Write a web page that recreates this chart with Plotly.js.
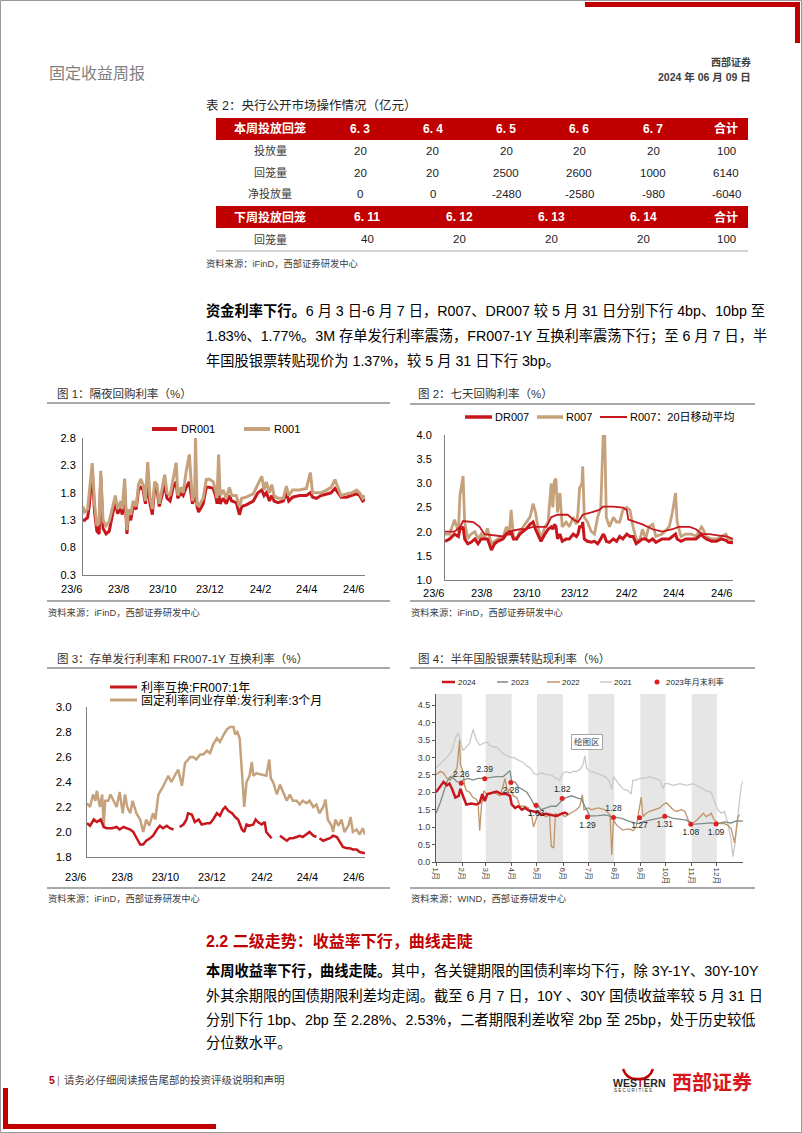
<!DOCTYPE html>
<html>
<head>
<meta charset="utf-8">
<script src="https://cdn.plot.ly/plotly-3.0.1.min.js"></script>
<style>
  html, body { margin: 0; padding: 0; background: #fff; }
  #page { width: 802px; height: 1133px; }
</style>
</head>
<body>
<div id="page"></div>
<script>
// 表2 央行公开市场操作
const weekCols = ['6. 3', '6. 4', '6. 5', '6. 6', '6. 7', '合计'];
const issueAmt = [20, 20, 20, 20, 20, 100];
const maturityAmt = [20, 20, 2500, 2600, 1000, 6140];
const netAmt = [0, 0, -2480, -2580, -980, -6040];
const nextCols = ['6. 11', '6. 12', '6. 13', '6. 14', '合计'];
const nextMaturity = [40, 20, 20, 20, 100];

// 图1 隔夜回购利率
const dates1 = ['2023-06-07','2023-06-09','2023-06-13','2023-06-15','2023-06-19','2023-06-22','2023-06-25','2023-06-28','2023-06-30','2023-07-03',
  '2023-07-07','2023-07-11','2023-07-16','2023-07-19','2023-07-22','2023-07-26','2023-07-28','2023-07-31','2023-08-03','2023-08-05',
  '2023-08-08','2023-08-11','2023-08-15','2023-08-18','2023-08-21','2023-08-24','2023-08-27','2023-08-30','2023-09-02','2023-09-05',
  '2023-09-08','2023-09-11','2023-09-14','2023-09-18','2023-09-21','2023-09-24','2023-09-28','2023-10-02','2023-10-06','2023-10-08',
  '2023-10-12','2023-10-15','2023-10-19','2023-10-23','2023-10-27','2023-10-30','2023-10-31','2023-11-02','2023-11-04','2023-11-10',
  '2023-11-14','2023-11-18','2023-11-23','2023-11-26','2023-11-28','2023-11-30','2023-12-02','2023-12-06','2023-12-10','2023-12-14',
  '2023-12-17','2023-12-23','2023-12-27','2023-12-30','2024-01-05','2024-01-14','2024-01-20','2024-01-25','2024-01-28','2024-01-31',
  '2024-02-04','2024-02-07','2024-02-10','2024-02-15','2024-02-22','2024-02-26','2024-02-29','2024-03-05','2024-03-14','2024-03-23',
  '2024-03-28','2024-03-31','2024-04-05','2024-04-11','2024-04-18','2024-04-24','2024-04-29','2024-05-03','2024-05-07','2024-05-14',
  '2024-05-21','2024-05-27','2024-05-31','2024-06-04','2024-06-07'];
const dr001 = [1.30,1.30,1.35,1.55,2.20,1.45,1.10,1.05,2.10,1.15,
  1.05,1.10,1.45,1.62,1.42,1.52,1.40,1.90,1.05,1.40,
  1.30,1.55,1.50,1.85,1.90,1.85,1.60,1.95,1.60,1.40,
  1.90,1.85,1.55,1.80,1.95,1.70,1.65,1.90,2.00,1.70,
  1.80,1.75,1.90,2.00,1.60,1.70,1.95,1.55,1.45,1.60,
  1.90,1.90,1.88,1.75,1.60,1.80,1.60,1.70,1.60,1.75,
  1.65,1.62,1.40,1.55,1.58,1.65,1.80,1.85,1.75,1.80,
  1.65,1.75,1.65,1.62,1.65,1.80,1.65,1.72,1.75,1.75,
  1.80,1.72,1.70,1.75,1.77,1.80,1.88,1.80,1.72,1.72,
  1.75,1.78,1.75,1.65,1.68];
const r001 = [1.55,1.45,1.50,1.80,2.34,1.60,1.20,1.25,2.20,1.30,
  1.20,1.28,1.58,1.75,1.50,1.65,1.50,2.06,1.12,1.50,
  1.40,1.65,1.55,1.95,2.05,1.95,1.65,2.36,1.70,1.50,
  2.00,1.95,1.60,1.90,2.13,1.80,1.75,2.05,2.35,1.75,
  1.90,1.80,2.20,2.50,1.65,1.80,2.80,1.60,1.55,1.70,
  2.04,2.05,2.00,1.85,1.70,2.50,1.75,1.85,1.70,1.90,
  1.75,1.75,1.55,1.70,1.72,1.78,1.95,2.10,1.85,2.00,
  1.80,1.95,1.75,1.70,1.70,1.92,1.75,1.85,1.85,1.88,
  2.17,1.80,1.80,1.80,1.85,1.90,2.04,1.90,1.75,1.78,
  1.80,1.85,1.80,1.70,1.75];

// 图2 七天回购利率
const dates2 = ['2023-06-07','2023-06-13','2023-06-19','2023-06-24','2023-06-26','2023-06-30','2023-07-02','2023-07-06','2023-07-10','2023-07-15',
  '2023-07-19','2023-07-23','2023-07-27','2023-07-31','2023-08-05','2023-08-09','2023-08-13','2023-08-20','2023-08-24','2023-08-28',
  '2023-08-30','2023-09-02','2023-09-06','2023-09-10','2023-09-14','2023-09-18','2023-09-23','2023-09-27','2023-09-30','2023-10-03',
  '2023-10-07','2023-10-12','2023-10-16','2023-10-20','2023-10-22','2023-10-24','2023-10-26','2023-10-28','2023-10-31','2023-11-03',
  '2023-11-08','2023-11-12','2023-11-17','2023-11-21','2023-11-23','2023-11-25','2023-11-28','2023-11-29','2023-12-01','2023-12-05',
  '2023-12-10','2023-12-14','2023-12-18','2023-12-22','2023-12-25','2023-12-27','2023-12-29','2024-01-02','2024-01-07','2024-01-11',
  '2024-01-15','2024-01-19','2024-01-24','2024-01-28','2024-02-01','2024-02-05','2024-02-09','2024-02-13','2024-02-17','2024-02-21',
  '2024-02-26','2024-03-01','2024-03-09','2024-03-18','2024-03-22','2024-03-26','2024-03-28','2024-04-02','2024-04-08','2024-04-15',
  '2024-04-21','2024-04-28','2024-04-30','2024-05-04','2024-05-11','2024-05-17','2024-05-23','2024-05-29','2024-06-01','2024-06-07'];
const r007 = [1.95,1.95,2.25,2.0,2.75,3.15,2.2,1.85,1.95,2.0,
  1.85,1.95,1.85,2.07,1.75,1.8,1.85,1.9,2.1,2.0,
  2.45,1.9,1.85,2.0,2.1,2.2,2.3,2.58,2.4,2.1,
  1.85,2.1,2.2,3.0,2.5,3.05,3.1,2.4,2.8,2.1,
  2.2,2.1,2.3,2.15,2.4,2.9,3.0,3.35,2.3,2.2,
  2.0,1.95,2.3,2.5,4.0,4.0,2.3,2.1,2.3,2.2,
  2.2,2.45,2.5,2.45,2.1,1.85,1.8,2.05,1.85,2.1,
  2.15,1.9,1.95,2.1,2.4,2.8,2.2,1.9,1.95,1.95,
  1.9,2.1,2.05,1.9,1.85,1.85,1.9,1.95,1.85,1.83];
const dr007 = [1.8,1.85,1.95,1.9,2.05,2.1,1.85,1.75,1.78,1.85,
  1.75,1.85,1.85,1.85,1.62,1.75,1.8,1.85,1.95,1.95,
  2.0,1.85,1.85,1.95,2.0,2.05,2.15,2.2,2.05,1.95,
  1.8,1.95,2.05,2.1,2.05,2.15,2.1,1.85,1.95,1.8,
  1.85,1.85,1.95,1.9,1.95,2.1,2.1,2.2,1.85,1.8,
  1.78,1.8,1.75,1.85,1.95,1.9,1.8,1.78,1.85,1.8,
  1.9,1.85,1.95,1.9,1.9,1.75,1.8,1.85,1.85,1.8,
  1.85,1.78,1.85,1.85,1.9,1.95,1.85,1.8,1.85,1.85,
  1.85,1.95,1.9,1.85,1.8,1.8,1.85,1.82,1.78,1.77];
const datesMA = ['2023-06-07','2023-06-19','2023-06-26','2023-06-30','2023-07-13','2023-07-21','2023-07-27','2023-08-07','2023-08-20','2023-08-26',
  '2023-09-10','2023-09-16','2023-09-27','2023-10-05','2023-10-14','2023-10-20','2023-10-28','2023-11-10','2023-11-17','2023-11-23',
  '2023-11-29','2023-12-10','2023-12-20','2023-12-25','2024-01-07','2024-01-19','2024-01-24','2024-01-26','2024-02-05','2024-02-13',
  '2024-02-26','2024-03-09','2024-03-22','2024-03-30','2024-04-13','2024-04-21','2024-04-28','2024-05-08','2024-05-21','2024-05-30','2024-06-07'];
const r007ma = [2.0,2.0,2.1,2.22,2.2,2.1,1.95,1.92,1.9,2.0,
  2.05,2.05,2.1,2.1,2.1,2.3,2.35,2.35,2.25,2.2,
  2.35,2.4,2.45,2.52,2.52,2.5,2.45,2.25,2.2,2.15,
  2.05,2.0,2.05,2.1,2.1,2.05,1.95,1.95,1.92,1.9,1.85];

// 图3 存单发行利率和 FR007-1Y 互换利率
const cdDates = ['2023-06-07','2023-06-11','2023-06-15','2023-06-18','2023-06-20','2023-06-24','2023-06-27','2023-06-29','2023-07-01','2023-07-05',
  '2023-07-08','2023-07-12','2023-07-16','2023-07-20','2023-07-24','2023-07-27','2023-07-30','2023-08-03','2023-08-06','2023-08-11',
  '2023-08-16','2023-08-20','2023-08-24','2023-08-28','2023-09-02','2023-09-05','2023-09-09','2023-09-14','2023-09-18','2023-09-22',
  '2023-09-26','2023-10-01','2023-10-05','2023-10-10','2023-10-14','2023-10-21','2023-10-25','2023-10-29','2023-11-03','2023-11-07',
  '2023-11-12','2023-11-16','2023-11-20','2023-11-25','2023-11-29','2023-12-04','2023-12-08','2023-12-12','2023-12-17','2023-12-19',
  '2023-12-22','2023-12-25','2023-12-28','2023-12-31','2024-01-03','2024-01-07','2024-01-10','2024-01-12','2024-01-16','2024-01-23',
  '2024-01-29','2024-02-02','2024-02-04','2024-02-07','2024-02-12','2024-02-16','2024-02-21','2024-02-25','2024-02-29','2024-03-04',
  '2024-03-09','2024-03-13','2024-03-17','2024-03-22','2024-03-26','2024-03-31','2024-04-04','2024-04-08','2024-04-13','2024-04-16',
  '2024-04-19','2024-04-24','2024-04-26','2024-04-29','2024-05-03','2024-05-07','2024-05-11','2024-05-16','2024-05-19','2024-05-22',
  '2024-05-27','2024-05-31','2024-06-04','2024-06-07'];
const cd3m = [2.23,2.20,2.30,2.25,2.33,2.20,2.30,2.05,2.25,2.25,
  2.30,2.25,2.20,2.32,2.15,2.30,2.20,2.15,2.25,2.15,
  2.10,2.00,2.10,2.05,2.15,2.10,2.30,2.35,2.40,2.45,
  2.40,2.45,2.50,2.37,2.55,2.60,2.60,2.58,2.62,2.62,
  2.65,2.63,2.70,2.75,2.72,2.78,2.82,2.84,2.84,2.78,
  2.80,2.75,2.50,2.20,2.40,2.45,2.56,2.45,2.47,2.46,
  2.45,2.58,2.43,2.40,2.30,2.38,2.30,2.25,2.30,2.25,
  2.25,2.22,2.25,2.23,2.25,2.20,2.22,2.15,2.20,2.26,
  2.10,2.05,2.00,2.10,2.05,2.10,2.00,2.05,2.12,2.00,
  2.02,1.98,2.03,1.98];
const frDates = ['2023-06-07','2023-06-11','2023-06-16','2023-06-20','2023-06-25','2023-06-29','2023-07-03','2023-07-10','2023-07-16','2023-07-20',
  '2023-07-25','2023-07-29','2023-08-03','2023-08-07','2023-08-11','2023-08-16','2023-08-20','2023-08-24','2023-08-29','2023-09-02',
  '2023-09-07','2023-09-11','2023-09-15','2023-09-20','2023-09-24','2023-09-29','2023-10-01','2023-10-07','2023-10-12','2023-10-16',
  '2023-10-18','2023-10-23','2023-10-27','2023-11-01','2023-11-05','2023-11-12','2023-11-16','2023-11-20','2023-11-25','2023-11-29',
  '2023-12-03','2023-12-06','2023-12-10','2023-12-15','2023-12-19','2023-12-23','2023-12-28','2023-12-31','2024-01-03','2024-01-07',
  '2024-01-12','2024-01-15','2024-01-18','2024-01-23','2024-01-27','2024-01-29','2024-02-02','2024-02-05','2024-02-09','2024-02-16',
  '2024-02-21','2024-02-25','2024-02-29','2024-03-04','2024-03-09','2024-03-13','2024-03-17','2024-03-22','2024-03-26','2024-03-31',
  '2024-04-04','2024-04-06','2024-04-08','2024-04-13','2024-04-17','2024-04-22','2024-04-26','2024-05-01','2024-05-05','2024-05-09',
  '2024-05-14','2024-05-18','2024-05-22','2024-05-27','2024-05-31','2024-06-07'];
const fr007 = [2.07,2.05,2.10,2.08,2.10,2.04,2.03,2.03,2.04,2.02,
  2.04,2.03,2.02,2.00,1.95,1.90,1.90,1.93,1.95,1.97,
  2.02,2.05,2.03,2.05,2.03,2.02,null,2.04,2.06,2.10,
  2.15,2.14,2.08,2.10,2.06,2.07,2.07,2.10,2.15,2.13,
  2.18,2.20,2.17,2.15,2.12,2.10,2.02,2.00,2.06,2.05,
  2.06,2.10,2.08,2.06,2.08,2.00,1.97,1.95,null,1.97,
  1.95,1.93,1.95,1.95,1.96,1.97,1.96,1.98,2.00,1.97,
  1.96,null,1.95,1.93,1.94,1.95,1.97,1.96,1.92,1.88,
  1.87,1.87,1.86,1.86,1.84,1.83];

// 图4 半年国股银票转贴现利率 (x = 一年中的第几天)
const monthStart = [0, 31, 59, 90, 120, 151, 181, 212, 243, 273, 304, 334];
const monthLabel = ['1月','2月','3月','4月','5月','6月','7月','8月','9月','10月','11月','12月'];
const day2024 = [0,5,9,13,16,19,23,27,29,32,36,42,48,52,55,58,61,66,72,78,84,88,90,94,98,102,106,110,116,122,125,131,137,143,149,153,157];
const rate2024 = [2.0,2.15,2.3,2.2,2.25,2.1,1.85,1.9,2.1,1.9,1.65,1.68,1.65,1.7,1.95,1.75,1.95,1.98,2.02,1.95,1.95,1.9,1.65,1.55,1.6,1.5,1.55,1.48,1.45,1.42,1.35,1.38,1.35,1.32,1.38,1.42,1.37];
const day2023 = [0,5,9,13,17,21,25,29,32,38,44,50,57,64,72,80,84,88,90,94,98,104,108,112,116,119,122,125,131,137,143,147,152,155,161,167,173,177,181,183,193,201,209,213,221,228,236,242,246,254,262,270,275,282,290,298,304,312,320,327,335,343,351,357,365];
const rate2023 = [1.4,1.7,2.0,2.3,2.45,2.4,2.3,2.3,2.35,2.4,2.35,2.4,2.4,2.42,2.45,2.45,2.55,2.62,2.3,2.3,2.15,2.05,2.0,1.85,1.65,1.55,1.6,1.5,1.55,1.6,1.6,1.7,1.82,1.85,1.9,1.85,1.8,1.6,1.4,1.32,1.33,1.35,1.3,1.28,1.25,1.18,1.12,1.1,1.15,1.2,1.25,1.3,1.31,1.25,1.22,1.2,1.08,1.1,1.12,1.12,1.1,1.15,1.12,1.18,1.17];
const day2022 = [0,5,9,13,17,21,25,28,29,32,34,36,40,44,48,50,52,54,57,60,64,68,72,76,80,82,85,88,92,96,100,106,110,114,116,120,124,127,131,135,137,140,142,145,149,153,157,163,167,171,174,176,181,185,193,201,207,209,211,215,222,230,234,238,242,244,246,250,254,260,266,270,274,278,282,286,292,296,300,304,310,314,318,321,325,327,331,337,343,347,351,355,359,361];
const rate2022 = [2.5,2.6,2.55,2.4,2.35,2.5,2.7,3.5,2.8,2.6,2.2,2.05,2.0,1.85,1.8,1.7,0.9,1.6,2.05,1.95,1.95,2.0,1.95,1.9,2.2,2.4,2.0,2.1,1.9,1.85,1.6,1.6,1.55,1.3,1.0,1.3,1.4,1.35,1.3,1.35,0.45,0.4,1.4,1.3,1.4,1.3,1.35,1.45,1.5,1.6,1.93,1.5,1.55,1.5,1.55,1.5,1.35,0.2,1.2,1.05,0.92,0.95,0.9,1.0,1.5,1.86,1.3,1.4,1.45,1.5,1.55,1.65,1.7,1.6,1.5,1.45,1.5,1.45,1.2,1.1,1.2,1.3,1.4,1.3,1.35,1.4,1.2,1.1,1.1,1.05,0.95,0.55,1.3,1.35];
const day2021 = [0,7,13,19,23,26,29,32,36,40,44,48,52,56,60,64,68,72,76,80,84,88,92,96,100,104,108,112,116,120,124,127,131,137,143,147,151,155,159,163,167,171,175,177,179,183,191,197,201,205,207,209,211,217,222,228,232,234,238,242,248,254,260,266,270,272,276,282,290,298,306,314,321,327,331,335,339,343,347,351,353,355,359,363,365];
const rate2021 = [2.7,2.85,3.0,3.2,3.55,3.7,3.5,3.2,3.3,3.4,3.8,3.5,3.35,3.4,3.45,3.35,3.3,3.3,3.2,3.1,3.05,3.0,3.0,2.95,2.9,2.85,2.75,2.7,2.55,2.5,2.55,2.55,2.5,2.5,2.4,2.35,2.55,2.6,2.55,2.6,2.6,2.65,2.8,3.05,2.7,2.6,2.55,2.5,2.45,2.35,2.25,2.07,2.45,2.25,2.1,2.05,1.95,2.35,2.35,2.4,2.4,2.45,2.4,2.35,2.1,2.25,2.25,2.2,2.25,2.2,2.25,2.15,2.05,2.0,1.75,1.5,1.4,1.45,1.1,0.6,0.15,0.45,1.35,2.2,2.3];
const monthEndDay = [30, 58, 89, 119, 150, 180, 211, 242, 272, 303, 333];
const monthEndRate = [2.26, 2.39, 2.28, 1.63, 1.82, 1.29, 1.28, 1.27, 1.31, 1.08, 1.09];

// x axis ticks for 图1-3
const tickDates = ['2023-06-07','2023-08-07','2023-10-07','2023-12-07','2024-02-07','2024-04-07','2024-06-07'];
const tickText = ['23/6','23/8','23/10','23/12','24/2','24/4','24/6'];

// ---------- page layout ----------
const W = 802, H = 1133;
const FONT = 'Liberation Sans, Arial, Noto Sans CJK SC, sans-serif';
const RED = '#C8161D', TAN = '#C6A27C', TRED = '#C00000';
const BODY = 14.25;
const px = x => x / W;
const py = y => 1 - y / H;

const annotations = [];
const shapes = [];

function txt(x, y, text, size, color, anchor, bold) {
  annotations.push({
    xref: 'paper', yref: 'paper', x: px(x), y: py(y),
    text: bold ? '<b>' + text + '</b>' : text,
    showarrow: false, xanchor: anchor || 'left', yanchor: 'middle',
    borderpad: 0, font: { family: FONT, size: size, color: color }
  });
}
function box(x0, y0, x1, y1, fill) {
  shapes.push({ type: 'rect', xref: 'paper', yref: 'paper',
    x0: px(x0), x1: px(x1), y0: py(y1), y1: py(y0),
    fillcolor: fill, line: { width: 0 }, layer: 'below' });
}
function seg(x0, y0, x1, y1, color, width) {
  shapes.push({ type: 'line', xref: 'paper', yref: 'paper',
    x0: px(x0), y0: py(y0), x1: px(x1), y1: py(y1),
    line: { color: color, width: width } });
}

// page frame and corner marks
shapes.push({ type: 'rect', xref: 'paper', yref: 'paper', x0: px(0.5), x1: px(801.5), y0: py(1132.5), y1: py(0.5),
  line: { color: '#9A9A9A', width: 1 }, layer: 'below' });
box(585, 2, 800, 7, TRED);
box(795, 2, 800, 43, TRED);
box(3, 1088, 8, 1129, TRED);
box(3, 1124, 216, 1129, TRED);

// header
txt(48, 73, '固定收益周报', 16, '#7F7F7F');
txt(752, 62, '西部证券', 10, '#404040', 'right', true);
txt(752, 77, '2024 年 06 月 09 日', 10.5, '#404040', 'right', true);

// table 2
txt(205, 105, '表 2：央行公开市场操作情况（亿元）', 12.5, '#262626');
const colX = [360, 433, 506, 579, 653, 726];
const nextColX = [367, 459, 551, 643, 726];
box(216, 118, 748, 140, TRED);
txt(270, 129, '本周投放回笼', 12, '#fff', 'center', true);
weekCols.forEach((d, i) => txt(colX[i], 129, d, 12, '#fff', 'center', true));
[['投放量', issueAmt, 151], ['回笼量', maturityAmt, 173], ['净投放量', netAmt, 194]].forEach(r => {
  txt(270, r[2], r[0], 11, '#404040', 'center');
  r[1].forEach((v, i) => txt(colX[i], r[2], String(v), 11.5, '#1A1A1A', 'center'));
});
box(216, 206, 748, 228, TRED);
txt(270, 217, '下周投放回笼', 12, '#fff', 'center', true);
nextCols.forEach((d, i) => txt(nextColX[i], 217, d, 12, '#fff', 'center', true));
txt(270, 239, '回笼量', 11, '#404040', 'center');
nextMaturity.forEach((v, i) => txt(nextColX[i], 239, String(v), 11.5, '#1A1A1A', 'center'));
seg(216, 251, 748, 251, '#A6A6A6', 1);
txt(205, 263, '资料来源：iFinD，西部证券研发中心', 9.3, '#404040');

// paragraph 1
txt(205, 311, '<b>资金利率下行。</b>6 月 3 日-6 月 7 日，R007、DR007 较 5 月 31 日分别下行 4bp、10bp 至', BODY, '#000');
txt(205, 336, '1.83%、1.77%。3M 存单发行利率震荡，FR007-1Y 互换利率震荡下行；至 6 月 7 日，半', BODY, '#000');
txt(205, 360, '年国股银票转贴现价为 1.37%，较 5 月 31 日下行 3bp。', BODY, '#000');

// chart frames: titles, rules, sources
txt(56, 393, '图 1：隔夜回购利率（%）', 11.5, '#333');
seg(47, 403, 390, 403, '#8C8C8C', 1.5);
seg(47, 601, 390, 601, '#8C8C8C', 1.5);
txt(47, 612, '资料来源：iFinD，西部证券研发中心', 9.3, '#404040');

txt(417, 393, '图 2：七天回购利率（%）', 11.5, '#333');
seg(410, 404, 755, 404, '#8C8C8C', 1.5);
seg(410, 601, 755, 601, '#8C8C8C', 1.5);
txt(410, 612, '资料来源：iFinD，西部证券研发中心', 9.3, '#404040');

txt(56, 658, '图 3：存单发行利率和 FR007-1Y 互换利率（%）', 11.5, '#333');
seg(47, 668, 390, 668, '#8C8C8C', 1.5);
seg(47, 888, 390, 888, '#8C8C8C', 1.5);
txt(47, 898, '资料来源：iFinD，西部证券研发中心', 9.3, '#404040');

txt(417, 658, '图 4：半年国股银票转贴现利率（%）', 11.5, '#333');
seg(410, 668, 755, 668, '#8C8C8C', 1.5);
seg(410, 888, 755, 888, '#8C8C8C', 1.5);
txt(410, 898, '资料来源：WIND，西部证券研发中心', 9.3, '#404040');

// legends
seg(152, 429, 177, 429, RED, 4); txt(180, 429, 'DR001', 11, '#000');
seg(244, 429, 270, 429, TAN, 4); txt(273, 429, 'R001', 11, '#000');

seg(465, 417, 492, 417, RED, 3.5); txt(494, 417, 'DR007', 11, '#000');
seg(537, 417, 563, 417, TAN, 3.5); txt(565, 417, 'R007', 11, '#000');
seg(600, 417, 627, 417, RED, 2); txt(629, 417, 'R007：20日移动平均', 11, '#000');

seg(110, 687, 137, 687, RED, 3); txt(140, 687, '利率互换:FR007:1年', 12, '#000');
seg(110, 700, 137, 700, TAN, 3); txt(140, 700, '固定利率同业存单:发行利率:3个月', 12, '#000');

const C21 = '#C9C9C9', C22 = '#BF9468', C23 = '#7E8C86';
seg(442, 682, 455, 682, RED, 2.5); txt(457, 682, '2024', 8, '#262626');
seg(497, 682, 508, 682, C23, 1.5); txt(510, 682, '2023', 8, '#262626');
seg(547, 682, 560, 682, C22, 1.5); txt(561, 682, '2022', 8, '#262626');
seg(600, 682, 612, 682, C21, 1.5); txt(613, 682, '2021', 8, '#262626');
shapes.push({ type: 'circle', xref: 'paper', yref: 'paper', x0: px(654.5), x1: px(659.5), y0: py(684.5), y1: py(679.5),
  fillcolor: '#E0201F', line: { width: 0 } });
txt(665, 682, '2023年月末利率', 8, '#262626');

// 图4 shaded odd months
const ydom4 = [py(862), py(694)];
[0, 2, 4, 6, 8, 10].forEach(m => {
  shapes.push({ type: 'rect', xref: 'x4', yref: 'paper', x0: monthStart[m], x1: monthStart[m + 1],
    y0: ydom4[0], y1: ydom4[1], fillcolor: '#E6E6E6', line: { width: 0 }, layer: 'below' });
});
annotations.push({ xref: 'paper', yref: 'paper', x: px(587), y: py(742), text: '绘图区', showarrow: false,
  xanchor: 'center', yanchor: 'middle', bgcolor: '#fff', bordercolor: '#A6A6A6', borderwidth: 1, borderpad: 2,
  font: { family: FONT, size: 8.5, color: '#404040' } });

// section 2.2
txt(205, 941, '<b>2.2 二级走势：收益率下行，曲线走陡</b>', 16, TRED);
txt(205, 970, '<b>本周收益率下行，曲线走陡。</b>其中，各关键期限的国债利率均下行，除 3Y-1Y、30Y-10Y', BODY, '#000');
txt(205, 995, '外其余期限的国债期限利差均走阔。截至 6 月 7 日，10Y 、30Y 国债收益率较 5 月 31 日', BODY, '#000');
txt(205, 1019, '分别下行 1bp、2bp 至 2.28%、2.53%，二者期限利差收窄 2bp 至 25bp，处于历史较低', BODY, '#000');
txt(205, 1043, '分位数水平。', BODY, '#000');

// footer
txt(48, 1080, '<b>5</b>', 10.5, TRED);
txt(56, 1080, '|', 10.5, '#7F7F7F');
txt(63, 1080, '请务必仔细阅读报告尾部的投资评级说明和声明', 10.5, '#404040');
shapes.push({ type: 'path', xref: 'paper', yref: 'paper',
  path: 'M ' + px(623) + ',' + py(1069) + ' Q ' + px(627) + ',' + py(1080) + ' ' + px(638) + ',' + py(1079) +
        ' Q ' + px(649) + ',' + py(1080) + ' ' + px(653) + ',' + py(1069),
  line: { color: TRED, width: 2.5 } });
txt(612, 1083, '<b>WES<span style="color:#C00000">T</span>ERN</b>', 10.5, '#262626');
txt(613, 1090, 'S E C U R I T I E S', 4.5, '#262626');
txt(753, 1083, '<b>西部证券</b>', 20, '#D7191F', 'right');

// ---------- traces ----------
function lineTrace(x, y, xa, ya, color, width) {
  return { x: x, y: y, xaxis: xa, yaxis: ya, type: 'scatter', mode: 'lines',
    line: { color: color, width: width }, connectgaps: false, showlegend: false, hoverinfo: 'skip' };
}
const traces = [
  lineTrace(dates1, dr001, 'x', 'y', RED, 3),
  lineTrace(dates1, r001, 'x', 'y', TAN, 3),
  lineTrace(dates2, r007, 'x2', 'y2', TAN, 2.8),
  lineTrace(dates2, dr007, 'x2', 'y2', RED, 3),
  lineTrace(datesMA, r007ma, 'x2', 'y2', RED, 1.8),
  lineTrace(cdDates, cd3m, 'x3', 'y3', TAN, 2.5),
  lineTrace(frDates, fr007, 'x3', 'y3', RED, 2.5),
  lineTrace(day2021, rate2021, 'x4', 'y4', C21, 1.3),
  lineTrace(day2022, rate2022, 'x4', 'y4', C22, 1.3),
  lineTrace(day2023, rate2023, 'x4', 'y4', C23, 1.3),
  lineTrace(day2024, rate2024, 'x4', 'y4', RED, 2.5),
  { x: monthEndDay, y: monthEndRate, xaxis: 'x4', yaxis: 'y4', type: 'scatter', mode: 'markers+text',
    marker: { color: '#E0201F', size: 5 }, text: monthEndRate.map(v => v.toFixed(2)),
    textposition: ['top center', 'top center', 'bottom center', 'bottom center', 'top center', 'bottom center',
      'top center', 'bottom center', 'bottom center', 'bottom center', 'bottom center'],
    textfont: { family: FONT, size: 8.5, color: '#262626' }, cliponaxis: false, showlegend: false, hoverinfo: 'skip' }
];

// ---------- axes ----------
function dateAxis(x0, x1, anchor, standoff) {
  return { domain: [px(x0), px(x1)], anchor: anchor, type: 'date', range: ['2023-06-07', '2024-06-07'],
    tickmode: 'array', tickvals: tickDates, ticktext: tickText, ticklabelposition: 'outside left',
    ticklabelstandoff: standoff,
    showline: true, linecolor: '#7F7F7F', linewidth: 1, showgrid: false, zeroline: false, ticks: '',
    tickfont: { family: FONT, size: 11, color: '#000' }, fixedrange: true };
}
function valAxis(top, bottom, anchor, range, ticks, standoff, size) {
  return { domain: [py(bottom), py(top)], anchor: anchor, range: range, tickmode: 'array', tickvals: ticks,
    tickformat: '.1f', showline: true, linecolor: '#7F7F7F', linewidth: 1, showgrid: false, zeroline: false,
    ticks: '', ticklabelstandoff: standoff, tickfont: { family: FONT, size: size, color: '#000' }, fixedrange: true };
}

const layout = {
  width: W, height: H, margin: { l: 0, r: 0, t: 0, b: 0 },
  paper_bgcolor: '#fff', plot_bgcolor: 'rgba(0,0,0,0)', showlegend: false,
  xaxis: dateAxis(83, 365, 'y', 4),
  yaxis: valAxis(438, 575, 'x', [0.3, 2.8], [0.3, 0.8, 1.3, 1.8, 2.3, 2.8], 4, 11),
  xaxis2: dateAxis(445, 733, 'y2', 3),
  yaxis2: valAxis(435, 580, 'x2', [1.0, 4.0], [1.0, 1.5, 2.0, 2.5, 3.0, 3.5, 4.0], 10, 11),
  xaxis3: dateAxis(87, 365, 'y3', 10),
  yaxis3: valAxis(707, 857, 'x3', [1.8, 3.0], [1.8, 2.0, 2.2, 2.4, 2.6, 2.8, 3.0], 12, 11.5),
  xaxis4: { domain: [px(436), px(743)], anchor: 'y4', range: [0, 365], tickmode: 'array',
    tickvals: monthStart, ticktext: monthLabel, tickangle: 90, ticks: 'outside', ticklen: 3, tickcolor: '#595959',
    showline: true, linecolor: '#595959', showgrid: false, zeroline: false,
    tickfont: { family: FONT, size: 8, color: '#404040' }, fixedrange: true },
  yaxis4: { domain: ydom4, anchor: 'x4', range: [0, 4.82], tickmode: 'array',
    tickvals: [0, 0.5, 1, 1.5, 2, 2.5, 3, 3.5, 4, 4.5], tickformat: '.1f', ticks: 'outside', ticklen: 3,
    tickcolor: '#595959', showline: true, linecolor: '#595959', showgrid: false, zeroline: false,
    tickfont: { family: FONT, size: 9, color: '#404040' }, fixedrange: true },
  shapes: shapes,
  annotations: annotations
};

Plotly.newPlot('page', traces, layout, { staticPlot: true, displayModeBar: false });
</script>
</body>
</html>
